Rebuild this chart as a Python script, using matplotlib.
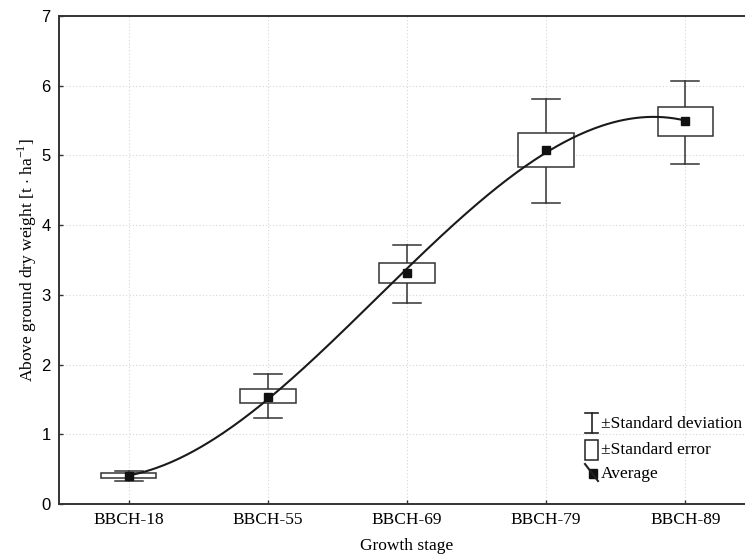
import numpy as np
import matplotlib
matplotlib.use("Agg")
import matplotlib.pyplot as plt
from matplotlib.patches import Rectangle
from matplotlib.lines import Line2D

stages = ["BBCH-18", "BBCH-55", "BBCH-69", "BBCH-79", "BBCH-89"]
means = [0.40, 1.54, 3.32, 5.08, 5.49]
se_low = [0.37, 1.445, 3.175, 4.83, 5.28]
se_high = [0.44, 1.645, 3.45, 5.32, 5.69]
sd_low = [0.33, 1.24, 2.89, 4.32, 4.88]
sd_high = [0.47, 1.86, 3.71, 5.81, 6.07]
yticks = [0, 1, 2, 3, 4, 5, 6, 7]

serif = "Liberation Serif"
sans = "Liberation Sans"
edge = "#333333"
plt.rcParams["mathtext.fontset"] = "custom"
plt.rcParams["mathtext.rm"] = serif

fig = plt.figure(figsize=(7.45, 5.58), dpi=100)
ax = fig.add_axes([59/745, 54/558, (755-59)/745, (504-16)/558])

x = np.arange(len(stages))
# grid
for yy in yticks[1:-1]:
    ax.axhline(yy, color="#d6d6d6", lw=0.8, ls=(0, (1, 2)), zorder=0)
for xx in x:
    ax.axvline(xx, color="#d6d6d6", lw=0.8, ls=(0, (1, 2)), zorder=0)

box_w = 0.4
cap_w = 0.2
for i in range(len(stages)):
    ax.plot([x[i], x[i]], [sd_low[i], se_low[i]], color=edge, lw=1.1, zorder=2)
    ax.plot([x[i], x[i]], [se_high[i], sd_high[i]], color=edge, lw=1.1, zorder=2)
    ax.plot([x[i]-cap_w/2, x[i]+cap_w/2], [sd_low[i]]*2, color=edge, lw=1.1, zorder=2)
    ax.plot([x[i]-cap_w/2, x[i]+cap_w/2], [sd_high[i]]*2, color=edge, lw=1.1, zorder=2)
    ax.add_patch(Rectangle((x[i]-box_w/2, se_low[i]), box_w, se_high[i]-se_low[i],
                           facecolor="white", edgecolor=edge, lw=1.1, zorder=2))

coef = np.polyfit(x, means, 3)
xs = np.linspace(0, 4, 300)
ax.plot(xs, np.polyval(coef, xs), color="#1a1a1a", lw=1.5, zorder=3)
ax.plot(x, means, ls="none", marker="s", ms=6, color="#111111", zorder=4)

ax.set_xlim(-0.5, 4.5)
ax.set_ylim(0, 7)
ax.set_yticks(yticks)
ax.set_xticks(x)
ax.set_xticklabels(stages, fontfamily=serif, fontsize=12.5)
ax.set_yticklabels([str(v) for v in yticks], fontfamily=sans, fontsize=12)
ax.tick_params(direction="in", length=3, width=1, color=edge, pad=6)
for s in ax.spines.values():
    s.set_color(edge)
    s.set_linewidth(1.4)

ax.set_xlabel("Growth stage", fontfamily=serif, fontsize=12.5, labelpad=7)
ax.set_ylabel(r"Above ground dry weight [t $\cdot$ ha$^{\mathregular{-1}}$]",
              fontfamily=serif, fontsize=12.5, labelpad=2)

# legend (figure pixel coordinates)
def fx(px):
    return px / 745
def fy(py):
    return 1 - py / 558

lc = "#222222"
fig.add_artist(Line2D([fx(591.5), fx(591.5)], [fy(413), fy(433)], color=lc, lw=1.2))
fig.add_artist(Line2D([fx(585), fx(598)], [fy(413), fy(413)], color=lc, lw=1.2))
fig.add_artist(Line2D([fx(585), fx(598)], [fy(433), fy(433)], color=lc, lw=1.2))
fig.add_artist(Rectangle((fx(585), fy(460)), fx(598)-fx(585), fy(440)-fy(460),
                         transform=fig.transFigure, facecolor="white", edgecolor=lc, lw=1.1))
fig.add_artist(Line2D([fx(585), fx(598)], [fy(464), fy(481)], color=lc, lw=1.5))
fig.add_artist(Rectangle((fx(589), fy(478)), fx(597)-fx(589), fy(469)-fy(478),
                         transform=fig.transFigure, facecolor="#111111", edgecolor="#111111"))
for txt, py in [("±Standard deviation", 424), ("±Standard error", 450), ("Average", 474)]:
    fig.text(fx(601), fy(py), txt, fontfamily=serif, fontsize=12.5, va="center", ha="left")

fig.savefig("out.png", dpi=100)
